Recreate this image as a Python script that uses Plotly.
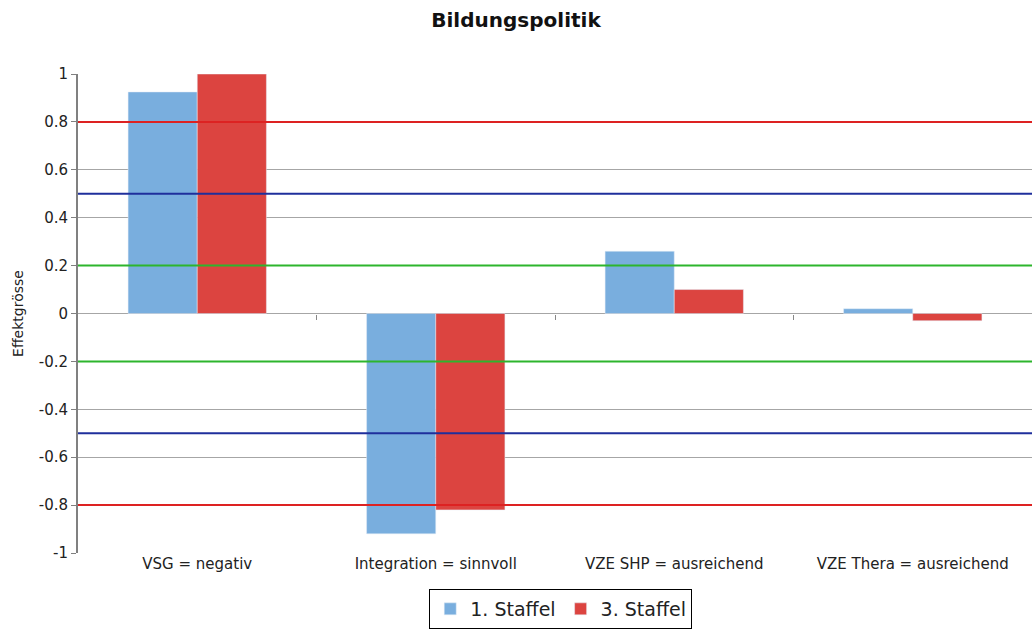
import plotly.graph_objects as go

categories = ["VSG = negativ", "Integration = sinnvoll", "VZE SHP = ausreichend", "VZE Thera = ausreichend"]
staffel_1 = [0.925, -0.92, 0.26, 0.02]
staffel_3 = [1.0, -0.82, 0.10, -0.03]

y_ticks = [-1, -0.8, -0.6, -0.4, -0.2, 0, 0.2, 0.4, 0.6, 0.8, 1]
y_labels = ["-1", "-0.8", "-0.6", "-0.4", "-0.2", "0", "0.2", "0.4", "0.6", "0.8", "1"]

# effect size thresholds (small / medium / large)
thresholds = [0.2, 0.5, 0.8]
threshold_colors = ["#2db52d", "#1f2f9c", "#dd2222"]

fig = go.Figure()
fig.add_trace(go.Bar(x=categories, y=staffel_1, name="1. Staffel", marker_color="#79aede"))
fig.add_trace(go.Bar(x=categories, y=staffel_3, name="3. Staffel", marker_color="#dc4440"))

for t, c in zip(thresholds, threshold_colors):
    for sign in (1, -1):
        fig.add_shape(type="line", xref="paper", yref="y", x0=0, x1=1, y0=sign * t, y1=sign * t,
                      line=dict(color=c, width=2), layer="above")

fig.update_layout(
    width=1032, height=629,
    margin=dict(l=78, r=0, t=74, b=76),
    plot_bgcolor="white", paper_bgcolor="white",
    font=dict(family="DejaVu Sans", size=15, color="#222222"),
    title=dict(text="<b>Bildungspolitik</b>", x=0.5, xanchor="center", y=0.968, yanchor="middle",
               font=dict(size=20, color="#111111")),
    barmode="group", bargap=0.42, bargroupgap=0,
    showlegend=True,
    legend=dict(orientation="h", x=0.506, xanchor="center", yref="container", y=0, yanchor="bottom",
                bordercolor="black", borderwidth=1, font=dict(size=19), bgcolor="white"),
    # small category-boundary ticks on the zero line
    xaxis2=dict(overlaying="x", anchor="free", position=0.5, range=[0, 4], showline=False,
                showgrid=False, zeroline=False, ticks="outside", ticklen=5, tickcolor="#888888",
                tickvals=[1, 2, 3], showticklabels=False),
)
fig.update_yaxes(range=[-1, 1], tickvals=y_ticks, ticktext=y_labels, automargin=False,
                 showgrid=True, gridcolor="#a6a6a6", gridwidth=1,
                 zeroline=True, zerolinecolor="#a6a6a6", zerolinewidth=1,
                 showline=True, linecolor="#808080", linewidth=2,
                 ticks="outside", ticklen=5, tickcolor="#808080",
                 title=dict(text="Effektgrösse", font=dict(size=14), standoff=12))
# invisible (white) ticks push the category labels further down
fig.update_xaxes(selector=dict(anchor="y"), showline=True, linecolor="#a6a6a6", linewidth=1,
                 ticks="outside", ticklen=14, tickcolor="white", automargin=False)
fig.add_trace(go.Scatter(x=[0], y=[0], xaxis="x2", mode="markers", marker=dict(opacity=0),
                         showlegend=False, hoverinfo="skip"))

# drop the default page margin so the figure fills the window exactly
page_fix = ("document.documentElement.style.margin='0';document.documentElement.style.overflow='hidden';"
            "document.body.style.margin='0';document.body.style.overflow='hidden';")
fig.write_html("out.html", post_script=page_fix, config=dict(displayModeBar=False))
